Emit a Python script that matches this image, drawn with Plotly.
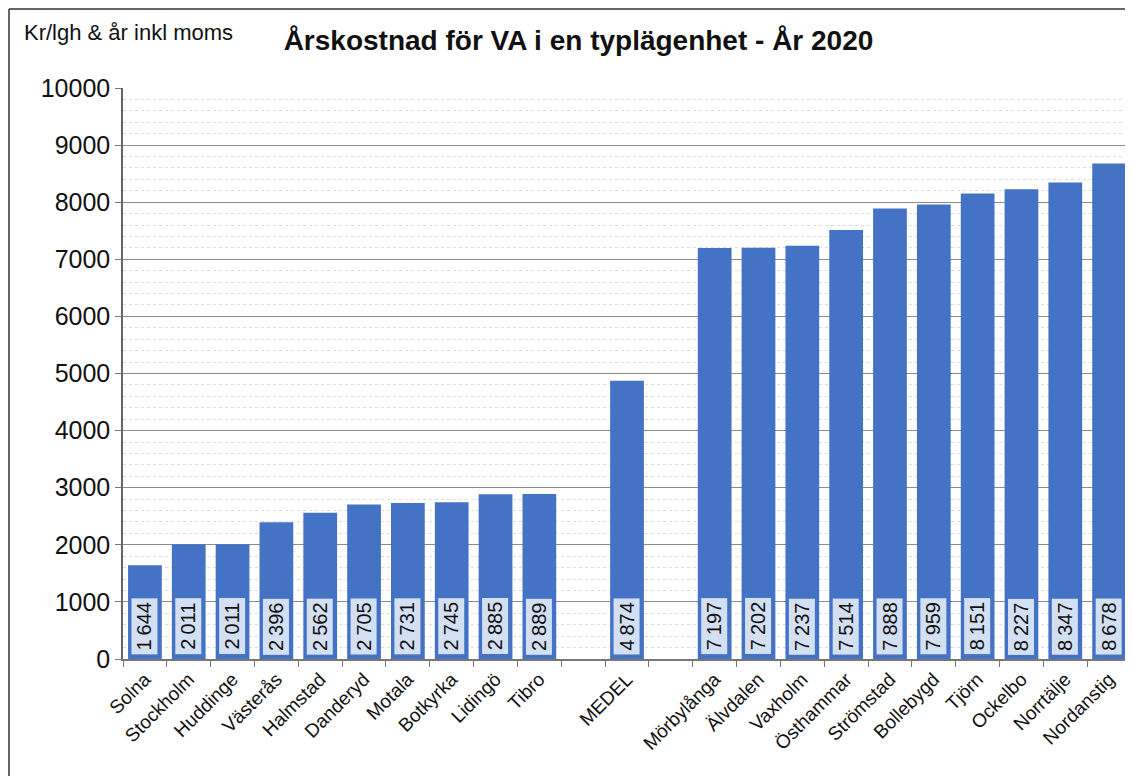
import plotly.graph_objects as go

categories = ["Solna", "Stockholm", "Huddinge", "Västerås", "Halmstad", "Danderyd",
              "Motala", "Botkyrka", "Lidingö", "Tibro", " ", "MEDEL", "  ",
              "Mörbylånga", "Älvdalen", "Vaxholm", "Östhammar", "Strömstad",
              "Bollebygd", "Tjörn", "Ockelbo", "Norrtälje", "Nordanstig"]
values = [1644, 2011, 2011, 2396, 2562, 2705, 2731, 2745, 2885, 2889, None, 4874, None,
          7197, 7202, 7237, 7514, 7888, 7959, 8151, 8227, 8347, 8678]

title_text = "Årskostnad för VA i en typlägenhet - År 2020"
unit_text = "Kr/lgh & år inkl moms"
y_ticks = [0, 1000, 2000, 3000, 4000, 5000, 6000, 7000, 8000, 9000, 10000]

BLUE = "#4472c4"
FONT = "Liberation Sans, Arial, sans-serif"

# page has an 8px body margin; figure coordinates = screenshot - 8
OFF = 8
W, H = 1133 - OFF, 776 - OFF
ML, MR, MT, MB = 123 - OFF, 0, 88 - OFF, 776 - 659
PW, PH = W - ML - MR, H - MT - MB

fig = go.Figure()
fig.add_trace(go.Bar(x=categories, y=values, marker=dict(color=BLUE, line=dict(width=0)),
                     width=0.77, hoverinfo="x+y"))

def fmt(v):
    return f"{v:,}".replace(",", "\u2009")

annotations = []
for c, v in zip(categories, values):
    if v is None:
        continue
    annotations.append(dict(x=c, y=570, xref="x", yref="y", text=fmt(v), showarrow=False,
                            textangle=-90, font=dict(family=FONT, size=20, color="#111"),
                            bgcolor="#d3dff2", bordercolor=BLUE, borderwidth=2, borderpad=2,
                            width=52, xanchor="center", yanchor="middle"))

annotations.append(dict(text=unit_text, xref="paper", yref="paper",
                        x=(22 - 123) / PW, y=(659 - 32) / PH, xanchor="left", yanchor="middle",
                        showarrow=False, font=dict(family=FONT, size=22, color="#111")))

# outer frame
fx = (9 - 123) / PW
fy = (659 - 9) / PH
shapes = [
    dict(type="line", xref="paper", yref="paper", x0=fx, x1=fx, y0=-0.3, y1=fy,
         line=dict(color="#333", width=1.5)),
    dict(type="line", xref="paper", yref="paper", x0=fx, x1=1.05, y0=fy, y1=fy,
         line=dict(color="#333", width=1.5)),
]

fig.update_layout(
    width=W, height=H,
    margin=dict(l=ML, r=MR, t=MT, b=MB, pad=0),
    paper_bgcolor="white", plot_bgcolor="white",
    showlegend=False,
    title=dict(text=f"<b>{title_text}</b>", x=(578.5 - OFF) / W, xanchor="center",
               y=1 - (40 - OFF) / H, yanchor="middle", font=dict(family=FONT, size=28, color="#111")),
    font=dict(family=FONT, color="#111"),
    annotations=annotations,
    shapes=shapes,
)

fig.update_yaxes(range=[0, 10000], tickvals=y_ticks, ticktext=[str(t) for t in y_ticks],
                 showgrid=True, gridcolor="#8c8c8c", gridwidth=1,
                 minor=dict(dtick=200, showgrid=True, gridcolor="#dedede", griddash="dot", gridwidth=1),
                 showline=True, linecolor="#666", linewidth=1.5,
                 ticks="outside", ticklen=6, tickcolor="#777",
                 tickfont=dict(family=FONT, size=25, color="#111"), zeroline=False)
fig.update_xaxes(type="category", range=[-0.5, 22.545], tickangle=-45, tickson="boundaries",
                 ticks="outside", ticklen=6, tickcolor="#777",
                 showline=True, linecolor="#777", linewidth=1.5,
                 tickfont=dict(family=FONT, size=19, color="#111"), showgrid=False)

fig.write_html("out.html")
